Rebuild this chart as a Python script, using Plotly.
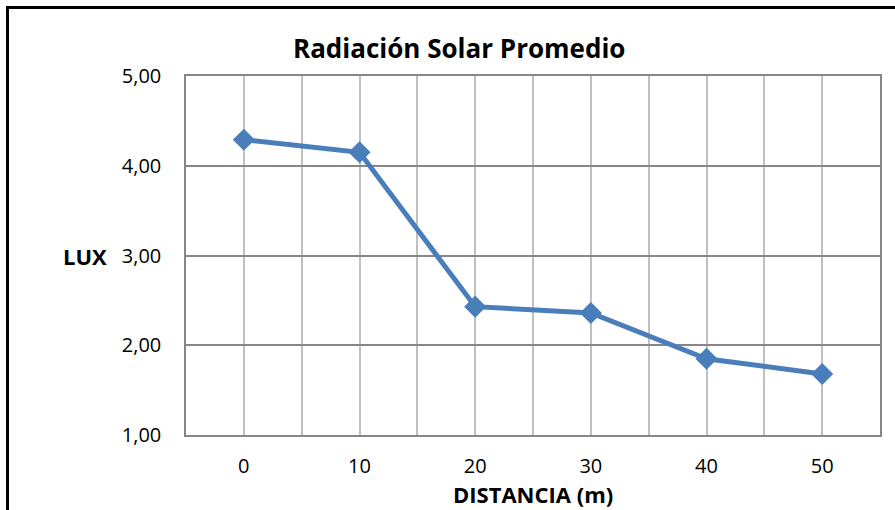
import plotly.graph_objects as go

distancia = [0, 10, 20, 30, 40, 50]
lux = [4.29, 4.15, 2.43, 2.36, 1.85, 1.68]
x_grid_vals = [0, 5, 10, 15, 20, 25, 30, 35, 40, 45, 50]
x_grid_text = ["0", "", "10", "", "20", "", "30", "", "40", "", "50"]
y_ticks = [1, 2, 3, 4, 5]

FONT = "Open Sans"
BLUE = "#4a7ebb"

fig = go.Figure()
fig.add_trace(go.Scatter(
    x=distancia, y=lux, mode="lines+markers",
    line=dict(color=BLUE, width=5),
    marker=dict(symbol="diamond", size=17, color=BLUE),
    showlegend=False, hoverinfo="x+y",
))

fig.update_layout(
    width=895, height=510,
    margin=dict(l=186, r=15, t=76, b=75),
    paper_bgcolor="white", plot_bgcolor="white",
    separators=",.",
    font=dict(family=FONT, size=20, color="black"),
    xaxis=dict(
        range=[-5, 55], tickmode="array", tickvals=x_grid_vals, ticktext=x_grid_text,
        showgrid=True, gridcolor="#c0c0c0", gridwidth=1.5,
        showline=True, linecolor="#868686", linewidth=1.5, mirror=True,
        zeroline=False, ticks="outside", ticklen=12, tickcolor="rgba(0,0,0,0)",
        tickfont=dict(size=20),
    ),
    yaxis=dict(
        range=[1, 5], tickmode="array", tickvals=y_ticks, tickformat=".2f",
        showgrid=True, gridcolor="#868686", gridwidth=1.5,
        showline=True, linecolor="#868686", linewidth=1.5, mirror=True,
        zeroline=False, ticks="outside", ticklen=19, tickcolor="rgba(0,0,0,0)",
        tickfont=dict(size=20),
    ),
    annotations=[
        dict(text="<b>Radiación Solar Promedio</b>", xref="paper", yref="paper",
             x=0.393, y=1.078, showarrow=False, font=dict(size=26, family=FONT),
             xanchor="center", yanchor="middle"),
        dict(text="<b>DISTANCIA (m)</b>", xref="paper", yref="paper",
             x=0.5, y=-0.164, showarrow=False, font=dict(size=22, family=FONT),
             xanchor="center", yanchor="middle"),
        dict(text="<b>LUX</b>", xref="paper", yref="paper",
             x=-0.1455, y=0.5, showarrow=False, font=dict(size=22, family=FONT),
             xanchor="center", yanchor="middle"),
    ],
    shapes=[
        dict(type="rect", xref="paper", yref="paper",
             x0=-0.2572, x1=2, y0=-1, y1=1.1908,
             line=dict(color="black", width=3), fillcolor="rgba(0,0,0,0)", layer="above"),
    ],
)

fig.write_html("out.html")
